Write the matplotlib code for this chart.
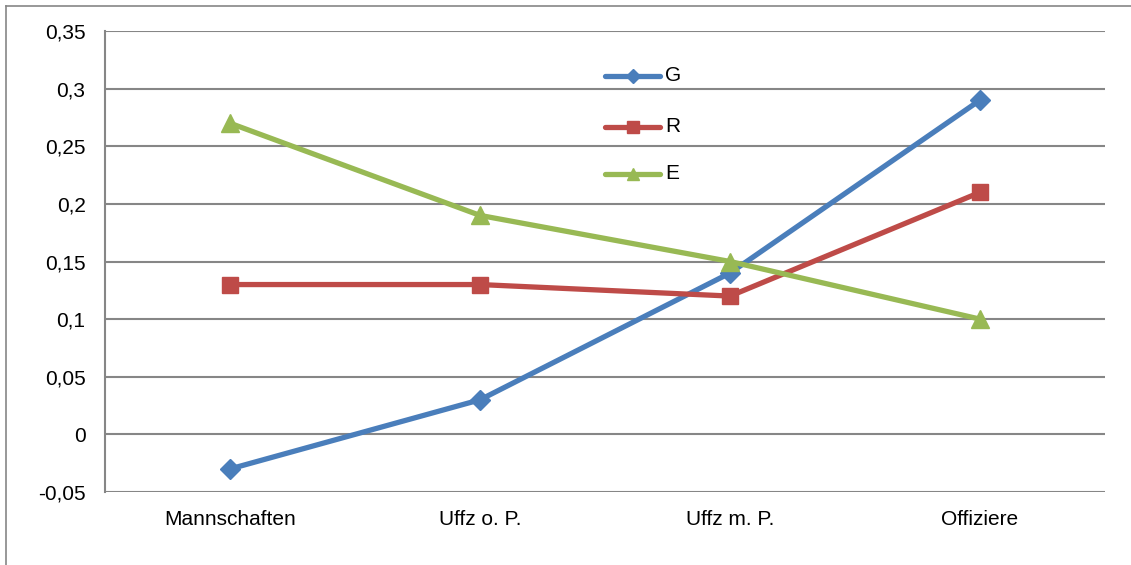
import matplotlib
matplotlib.use('Agg')
import matplotlib.pyplot as plt
from matplotlib.lines import Line2D

categories = ['Mannschaften', 'Uffz o. P.', 'Uffz m. P.', 'Offiziere']
g_vals = [-0.03, 0.03, 0.14, 0.29]
r_vals = [0.13, 0.13, 0.12, 0.21]
e_vals = [0.27, 0.19, 0.15, 0.10]
y_ticks = [-0.05, 0, 0.05, 0.1, 0.15, 0.2, 0.25, 0.3, 0.35]
y_labels = ['-0,05', '0', '0,05', '0,1', '0,15', '0,2', '0,25', '0,3', '0,35']

plt.rcParams['font.family'] = ['Liberation Sans', 'DejaVu Sans']

W, H = 1131, 565
fig = plt.figure(figsize=(W / 100, H / 100), dpi=100)
ax = fig.add_axes([105 / W, 1 - 492 / H, 1000 / W, (492 - 31) / H])

# outer chart border (only left and top visible in the crop)
fig.add_artist(Line2D([5.5 / W, 5.5 / W], [0, 1 - 6 / H], color='#868686', lw=1.2,
                      transform=fig.transFigure))
fig.add_artist(Line2D([5.5 / W, 1], [1 - 6 / H, 1 - 6 / H], color='#868686', lw=1.2,
                      transform=fig.transFigure))

x = range(len(categories))
series = [
    ('G', g_vals, '#4A7EBB', 'D', 10),
    ('R', r_vals, '#BE4B48', 's', 12),
    ('E', e_vals, '#98B954', '^', 13),
]
for name, vals, col, mk, ms in series:
    ax.plot(x, vals, color=col, lw=3.8, marker=mk, markersize=ms,
            solid_capstyle='round', label=name, zorder=3)

ax.set_xlim(-0.5, 3.5)
ax.set_ylim(-0.05, 0.35)
ax.set_yticks(y_ticks)
ax.set_yticklabels(y_labels)
ax.set_xticks(list(x))
ax.set_xticklabels(categories)
ax.tick_params(axis='both', length=0, labelsize=15, colors='black')
ax.tick_params(axis='y', pad=14)
ax.tick_params(axis='x', pad=13)
ax.yaxis.grid(True, color='#868686', lw=1.5)
ax.set_axisbelow(True)
for s in ['top', 'right', 'bottom']:
    ax.spines[s].set_visible(False)
ax.spines['left'].set_color('#868686')
ax.spines['left'].set_linewidth(1.5)

# legend drawn by hand to match the Excel layout
legend_ys = [0.311, 0.267, 0.226]
for (name, vals, col, mk, ms), ly in zip(series, legend_ys):
    ax.plot([1.5, 1.72], [ly, ly], color=col, lw=3.8,
            solid_capstyle='round', zorder=4, clip_on=False)
    ax.plot([1.61], [ly], color=col, marker=mk, markersize=ms * 0.7, zorder=5)
    ax.text(1.74, ly, name, fontsize=15, va='center', ha='left')

fig.savefig('out.png', dpi=100)
